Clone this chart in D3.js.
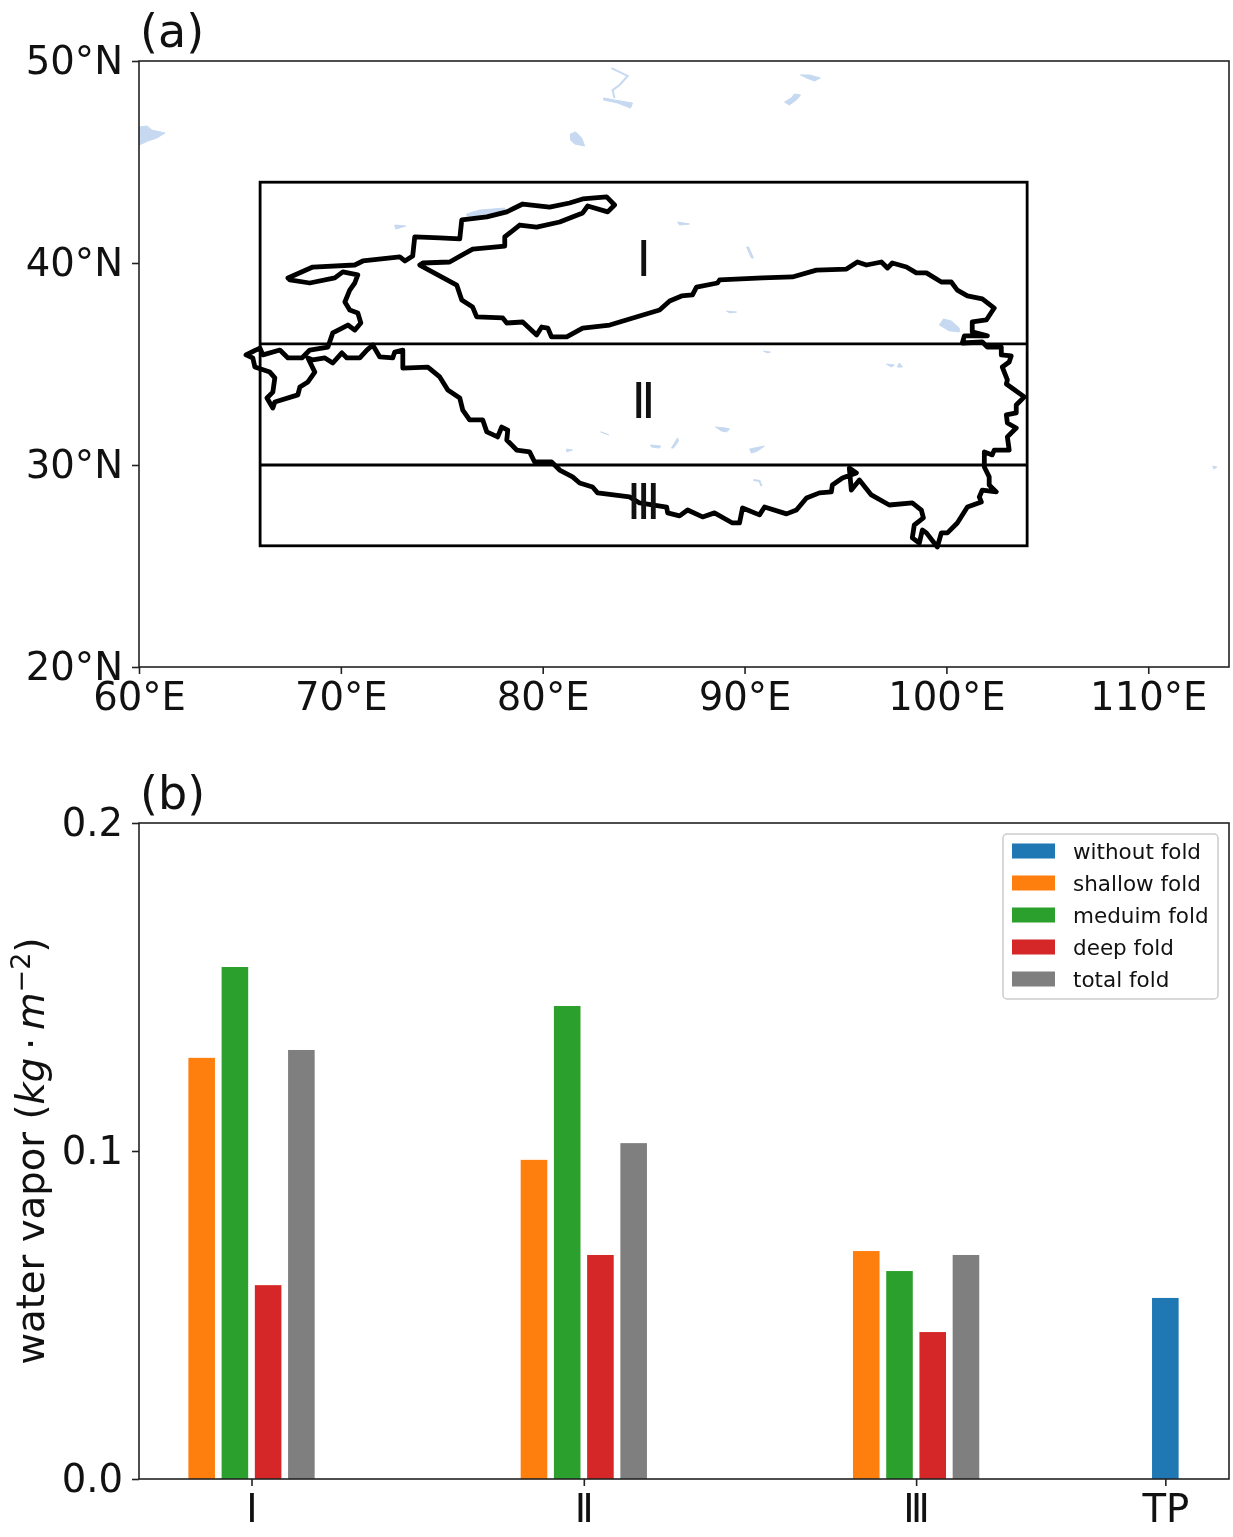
<!DOCTYPE html>
<html><head><meta charset="utf-8">
<script src="https://cdn.jsdelivr.net/npm/d3@7"></script>
<style>html,body{margin:0;padding:0;background:#fff}svg{display:block;filter:blur(0.55px)}text{font-family:"DejaVu Sans",sans-serif;fill:#111}</style>
</head><body><svg id="c" width="1233" height="1537"></svg>
<script>
// Panel (a): geographic data in [lon, lat]
const lonTicks=[60,70,80,90,100,110];
const latTicks=[20,30,40,50];
const regionBox=[66,104,26,44];
const regionLats=[36,30];
const regionLabels=[{t:"Ⅰ",lon:85,lat:39.36},{t:"Ⅱ",lon:85,lat:32.33},{t:"Ⅲ",lon:85,lat:27.33}];
const tpOutline=[[67.38,39.26],[68.61,39.80],[70.69,39.90],[71.09,40.10],[72.92,40.30],[73.17,40.10],[73.56,40.35],[73.66,41.29],[74.90,41.24],[75.89,41.19],[75.99,42.13],[77.23,42.28],[78.22,42.53],[79.01,42.92],[80.34,42.77],[81.33,42.97],[81.98,43.17],[83.17,43.27],[83.56,42.87],[83.22,42.53],[82.23,42.82],[81.98,42.48],[80.84,42.03],[79.70,41.78],[78.86,41.88],[78.12,41.29],[78.12,40.84],[76.53,40.69],[75.39,40.05],[74.06,40.00],[73.91,39.90],[75.74,38.91],[75.99,38.17],[76.53,37.82],[76.73,37.33],[78.02,37.28],[78.22,37.03],[79.01,37.08],[79.70,36.44],[79.95,36.83],[80.25,36.78],[80.44,36.34],[81.19,36.34],[81.98,36.78],[83.32,36.93],[84.80,37.38],[85.79,37.67],[86.29,38.12],[86.88,38.37],[87.42,38.42],[87.62,38.81],[88.66,39.01],[88.76,39.16],[90.89,39.26],[92.37,39.31],[93.56,39.65],[95.05,39.70],[95.59,40.05],[96.04,39.90],[96.78,40.05],[97.08,39.75],[97.32,40.00],[98.02,39.80],[98.51,39.51],[99.01,39.51],[99.75,39.06],[100.24,39.06],[100.54,38.66],[101.04,38.37],[101.78,38.22],[102.37,37.77],[101.98,37.18],[101.28,37.08],[101.28,36.59],[102.03,36.39],[100.89,36.39],[100.79,36.04],[101.78,36.09],[102.03,35.84],[102.72,35.84],[102.72,35.45],[103.21,35.40],[103.11,35.10],[102.77,34.85],[103.02,34.21],[102.97,34.01],[103.86,33.37],[103.46,32.97],[103.46,32.58],[102.97,32.48],[103.02,32.08],[103.46,31.83],[103.02,31.39],[103.11,30.74],[102.37,30.74],[102.27,30.50],[101.88,30.65],[101.88,29.90],[102.12,29.41],[102.12,29.01],[102.47,28.67],[101.78,28.76],[101.63,28.42],[101.73,28.17],[101.04,27.92],[100.54,27.13],[100.05,26.64],[99.75,26.64],[99.55,25.94],[99.01,26.64],[98.81,26.78],[98.66,26.14],[98.31,26.39],[98.41,27.03],[98.86,27.38],[98.76,27.77],[98.31,28.12],[97.17,28.02],[96.28,28.52],[95.69,29.26],[95.29,28.76],[95.19,29.85],[95.54,29.61],[94.85,29.36],[94.35,29.01],[94.30,28.67],[93.71,28.62],[93.07,28.37],[92.57,27.77],[92.08,27.58],[90.99,27.92],[90.74,27.53],[89.90,27.87],[89.75,27.13],[89.40,27.13],[88.51,27.63],[87.92,27.43],[87.18,27.77],[86.78,27.48],[86.19,27.63],[86.14,27.92],[84.80,28.12],[84.30,28.42],[82.72,28.62],[82.47,28.91],[81.83,29.11],[81.48,29.41],[80.84,29.75],[80.44,30.15],[79.60,30.15],[79.35,30.65],[78.71,30.74],[78.22,31.24],[78.27,31.73],[77.97,31.88],[77.77,31.39],[77.23,31.64],[77.03,32.23],[76.38,32.23],[76.04,32.72],[75.89,33.32],[75.30,33.71],[74.90,34.36],[74.31,34.85],[73.07,34.80],[73.07,35.69],[72.67,35.59],[72.57,35.30],[71.93,35.35],[71.58,35.94],[71.29,35.69],[70.94,35.30],[70.30,35.30],[70.05,35.55],[69.60,35.05],[69.21,35.30],[68.61,35.20],[68.37,35.30],[68.71,34.60],[68.37,34.11],[67.97,33.86],[67.87,33.47],[66.73,33.12],[66.63,32.82],[66.34,33.32],[66.63,33.61],[66.73,34.31],[66.48,34.60],[65.74,34.85],[65.64,35.30],[65.30,35.45],[65.99,35.79],[66.14,35.45],[66.98,35.69],[67.38,35.30],[68.07,35.30],[68.46,35.69],[69.36,35.84],[69.60,36.54],[70.35,36.93],[70.69,36.68],[70.99,37.03],[70.84,37.53],[70.44,37.67],[70.20,38.07],[70.44,38.66],[70.69,39.01],[70.84,39.41],[70.10,39.56],[69.70,39.26],[68.46,39.01],[67.47,39.16],[67.38,39.26]];
const lakes=[
[[60,46.73],[60.40,46.78],[60.64,46.58],[61.29,46.44],[60.89,46.19],[60.45,46.04],[60,45.84]],
[[83.02,48.17],[83.56,48.07],[84.45,47.92],[84.35,47.67],[83.71,47.92],[83.02,48.07]],
[[81.38,46.39],[81.63,46.49],[81.93,46.19],[82.08,45.79],[81.58,45.89],[81.38,46.09]],
[[92.77,49.31],[93.22,49.31],[93.76,49.16],[93.46,49.01],[93.07,49.16]],
[[91.98,47.97],[92.32,48.17],[92.47,48.37],[92.77,48.32],[92.57,48.07],[92.22,47.82]],
[[76.24,42.43],[76.88,42.62],[78.12,42.72],[78.12,42.48],[77.23,42.33],[76.24,42.33]],
[[72.67,41.88],[73.22,41.83],[72.72,41.68]],
[[86.68,42.03],[87.27,41.93],[86.78,41.88]],
[[90.10,40.79],[90.20,40.79],[90.44,40.25],[90.34,40.25]],
[[89.11,37.62],[89.60,37.57],[89.26,37.53]],
[[99.65,36.93],[99.85,37.23],[100.24,37.13],[100.64,36.78],[100.64,36.59],[100.14,36.64]],
[[90.94,35.64],[91.28,35.59],[91.13,35.55]],
[[97.03,35.00],[97.42,34.95],[97.27,34.85]],
[[97.57,34.85],[97.67,35.05],[97.82,34.85]],
[[88.56,31.88],[89.06,31.83],[89.26,31.78],[89.11,31.64],[88.86,31.68]],
[[85.34,30.99],[85.84,30.94],[85.79,30.84],[85.39,30.89]],
[[86.38,30.84],[86.68,31.34],[86.73,31.19],[86.48,30.84]],
[[90.25,30.79],[90.99,30.94],[90.64,30.69],[90.34,30.59]],
[[82.87,31.64],[83.27,31.49],[83.02,31.59]],
[[81.19,30.79],[81.48,30.74],[81.19,30.65]],
[[113.2,29.95],[113.4,29.90],[113.25,29.80]]];
const rivers=[
[[83.41,49.65],[84.21,49.26],[83.81,48.81],[83.46,48.56],[83.56,48.17]],
[[90.44,29.26],[90.74,29.21],[90.84,28.96]]];

// Panel (b): bar data
const barCategories=["Ⅰ","Ⅱ","Ⅲ","TP"];
const categoryPositions=[0,1,2,2.75];
const seriesNames=["without fold","shallow fold","meduim fold","deep fold","total fold"];
const seriesColors=["#1f77b4","#ff7f0e","#2ca02c","#d62728","#7f7f7f"];
const seriesOffsets=[0,-0.15,-0.05,0.05,0.15];
const withoutFold=[null,null,null,0.0552];
const shallowFold=[0.1284,0.0973,0.0695,null];
const mediumFold=[0.1561,0.1442,0.0634,null];
const deepFold=[0.0591,0.0683,0.0448,null];
const totalFold=[0.1308,0.1024,0.0683,null];
const seriesValues=[withoutFold,shallowFold,mediumFold,deepFold,totalFold];
const yTicks=[0,0.1,0.2];

const svg=d3.select("#c");
const FS=38.6;
const L=139,R=1229,aT=61,aB=667,bT=823,bB=1479;

// ---- panel (a)
const x=d3.scaleLinear().domain([60,114]).range([L,L+54*20.185]);
const y=d3.scaleLinear().domain([20,50]).range([aB,aT]);
const geo=d3.line().x(d=>x(d[0])).y(d=>y(d[1]));
const a=svg.append("g");
a.selectAll("path.lake").data(lakes).join("path").attr("class","lake").attr("d",d=>geo(d)+"Z").attr("fill","#c6d9f0").attr("stroke","#c6d9f0").attr("stroke-width",1);
a.selectAll("path.river").data(rivers).join("path").attr("class","river").attr("d",geo).attr("fill","none").attr("stroke","#c6d9f0").attr("stroke-width",2);
a.append("rect").attr("x",x(regionBox[0])).attr("y",y(regionBox[3])).attr("width",x(regionBox[1])-x(regionBox[0])).attr("height",y(regionBox[2])-y(regionBox[3])).attr("fill","none").attr("stroke","#000").attr("stroke-width",2.8);
a.selectAll("line.reg").data(regionLats).join("line").attr("class","reg").attr("x1",x(regionBox[0])).attr("x2",x(regionBox[1])).attr("y1",d=>y(d)).attr("y2",d=>y(d)).attr("stroke","#000").attr("stroke-width",2.8);
a.append("path").attr("d",geo(tpOutline)).attr("fill","none").attr("stroke","#000").attr("stroke-width",4.8).attr("stroke-linejoin","round").attr("stroke-linecap","round");
a.selectAll("text.reglab").data(regionLabels).join("text").attr("class","reglab").attr("x",d=>x(d.lon)).attr("y",d=>y(d.lat)).attr("text-anchor","middle").attr("font-size",49).text(d=>d.t);
a.append("rect").attr("x",L).attr("y",aT).attr("width",R-L).attr("height",aB-aT).attr("fill","none").attr("stroke","#222").attr("stroke-width",1.6);

function style(g){g.select(".domain").remove();g.selectAll("line").attr("stroke","#222").attr("stroke-width",1.6);g.selectAll("text").attr("font-size",FS).attr("fill","#111")}
a.append("g").attr("transform",`translate(0,${aB})`).call(d3.axisBottom(x).tickValues(lonTicks).tickSize(7).tickPadding(9).tickFormat(d=>d+"°E")).call(style);
a.append("g").attr("transform",`translate(${L},0)`).call(d3.axisLeft(y).tickValues(latTicks).tickSize(7).tickPadding(9).tickFormat(d=>d+"°N")).call(style);
a.append("text").attr("x",140).attr("y",47).attr("font-size",46).text("(a)");

// ---- panel (b)
const bx=d3.scaleLinear().domain([-0.3386,2.9416]).range([L,R]);
const by=d3.scaleLinear().domain([0,0.2]).range([bB,bT]);
const b=svg.append("g");
seriesValues.forEach((vals,s)=>{
  const rows=vals.map((v,i)=>({v,i})).filter(d=>d.v!==null);
  b.selectAll("rect.s"+s).data(rows).join("rect").attr("class","s"+s)
   .attr("x",d=>bx(categoryPositions[d.i]+seriesOffsets[s]-0.04))
   .attr("width",bx(0.08)-bx(0))
   .attr("y",d=>by(d.v)).attr("height",d=>by(0)-by(d.v)).attr("fill",seriesColors[s]);
});
b.append("rect").attr("x",L).attr("y",bT).attr("width",R-L).attr("height",bB-bT).attr("fill","none").attr("stroke","#222").attr("stroke-width",1.6);
b.append("g").attr("transform",`translate(0,${bB})`).call(d3.axisBottom(bx).tickValues(categoryPositions).tickSize(7).tickPadding(9).tickFormat((d,i)=>barCategories[i])).call(style);
b.append("g").attr("transform",`translate(${L},0)`).call(d3.axisLeft(by).tickValues(yTicks).tickSize(7).tickPadding(9).tickFormat(d3.format(".1f"))).call(style);
b.append("text").attr("x",140).attr("y",809).attr("font-size",46).text("(b)");
const yl=b.append("text").attr("transform",`translate(44,1151) rotate(-90)`).attr("text-anchor","middle").attr("font-size",FS);
yl.append("tspan").text("water vapor (");
yl.append("tspan").attr("font-style","italic").text("kg");
yl.append("tspan").text("\u2009·\u2009");
yl.append("tspan").attr("font-style","italic").text("m");
yl.append("tspan").attr("font-size",27).attr("dy",-14).text("−2");
yl.append("tspan").attr("dy",14).text(")");

// legend
const lg=b.append("g");
lg.append("rect").attr("x",1003).attr("y",834).attr("width",215).attr("height",165).attr("rx",4).attr("fill","#fff").attr("stroke","#ccc").attr("stroke-width",1.5);
const ly=d3.scalePoint().domain(seriesNames).range([851,979]);
lg.selectAll("rect.k").data(seriesNames).join("rect").attr("class","k").attr("x",1012).attr("width",43).attr("y",d=>ly(d)-7.5).attr("height",15).attr("fill",(d,i)=>seriesColors[i]);
lg.selectAll("text").data(seriesNames).join("text").attr("x",1073).attr("y",d=>ly(d)+8).attr("font-size",21.5).attr("fill","#222").text(d=>d);
</script></body></html>
